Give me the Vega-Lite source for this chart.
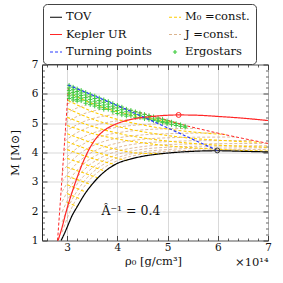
{
  "$schema": "https://vega.github.io/schema/vega-lite/v6.json",
  "width": 226,
  "height": 176,
  "autosize": {"type": "none"},
  "padding": {"left": 42, "top": 64.5, "right": 15, "bottom": 42.5},
  "background": "white",
  "config": {
    "view": {"stroke": "#222", "strokeWidth": 1},
    "font": "DejaVu Serif",
    "axis": {"labelFont": "DejaVu Serif", "titleFont": "DejaVu Serif", "labelFontSize": 10.5, "titleFontSize": 11.5, "titleFontWeight": "normal", "labelColor": "#111", "titleColor": "#111", "tickColor": "#222"},
    "legend": {"orient": "none", "legendX": 1, "legendY": -60.5, "columns": 2, "gridAlign": "each", "columnPadding": 14, "rowPadding": 4.5, "padding": 6, "labelFont": "DejaVu Serif", "labelFontSize": 11.5, "labelColor": "#111", "symbolSize": 144, "symbolStrokeWidth": 1.2, "strokeColor": "#444", "fillColor": "#ffffff", "cornerRadius": 4, "labelOffset": 3, "labelLimit": 200}
  },
  "datasets": {
    "jlines": [
      {"series":"J =const.","id":"j1","x":2.9,"y":1.28},{"series":"J =const.","id":"j1","x":3.0,"y":1.75},{"series":"J =const.","id":"j1","x":3.2,"y":2.47},{"series":"J =const.","id":"j1","x":3.4,"y":2.97},{"series":"J =const.","id":"j1","x":3.7,"y":3.44},{"series":"J =const.","id":"j1","x":4.0,"y":3.72},{"series":"J =const.","id":"j1","x":4.5,"y":3.95},{"series":"J =const.","id":"j1","x":5.0,"y":4.04},{"series":"J =const.","id":"j1","x":5.5,"y":4.075},{"series":"J =const.","id":"j1","x":6.0,"y":4.09},{"series":"J =const.","id":"j1","x":7.0,"y":4.1},
      {"series":"J =const.","id":"j2","x":2.9,"y":1.63},{"series":"J =const.","id":"j2","x":3.0,"y":2.05},{"series":"J =const.","id":"j2","x":3.2,"y":2.69},{"series":"J =const.","id":"j2","x":3.4,"y":3.14},{"series":"J =const.","id":"j2","x":3.7,"y":3.57},{"series":"J =const.","id":"j2","x":4.0,"y":3.82},{"series":"J =const.","id":"j2","x":4.5,"y":4.02},{"series":"J =const.","id":"j2","x":5.0,"y":4.1},{"series":"J =const.","id":"j2","x":5.5,"y":4.14},{"series":"J =const.","id":"j2","x":6.0,"y":4.15},{"series":"J =const.","id":"j2","x":7.0,"y":4.16},
      {"series":"J =const.","id":"j3","x":2.9,"y":1.97},{"series":"J =const.","id":"j3","x":3.0,"y":2.35},{"series":"J =const.","id":"j3","x":3.2,"y":2.92},{"series":"J =const.","id":"j3","x":3.4,"y":3.32},{"series":"J =const.","id":"j3","x":3.7,"y":3.7},{"series":"J =const.","id":"j3","x":4.0,"y":3.93},{"series":"J =const.","id":"j3","x":4.5,"y":4.11},{"series":"J =const.","id":"j3","x":5.0,"y":4.18},{"series":"J =const.","id":"j3","x":5.5,"y":4.21},{"series":"J =const.","id":"j3","x":6.0,"y":4.22},{"series":"J =const.","id":"j3","x":7.0,"y":4.23},
      {"series":"J =const.","id":"j4","x":2.9,"y":2.32},{"series":"J =const.","id":"j4","x":3.0,"y":2.65},{"series":"J =const.","id":"j4","x":3.2,"y":3.16},{"series":"J =const.","id":"j4","x":3.4,"y":3.51},{"series":"J =const.","id":"j4","x":3.7,"y":3.85},{"series":"J =const.","id":"j4","x":4.0,"y":4.04},{"series":"J =const.","id":"j4","x":4.5,"y":4.2},{"series":"J =const.","id":"j4","x":5.0,"y":4.27},{"series":"J =const.","id":"j4","x":5.5,"y":4.29},{"series":"J =const.","id":"j4","x":6.0,"y":4.3},{"series":"J =const.","id":"j4","x":7.0,"y":4.31},
      {"series":"J =const.","id":"j5","x":2.9,"y":2.66},{"series":"J =const.","id":"j5","x":3.0,"y":2.95},{"series":"J =const.","id":"j5","x":3.2,"y":3.4},{"series":"J =const.","id":"j5","x":3.4,"y":3.71},{"series":"J =const.","id":"j5","x":3.7,"y":4.0},{"series":"J =const.","id":"j5","x":4.0,"y":4.17},{"series":"J =const.","id":"j5","x":4.5,"y":4.32},{"series":"J =const.","id":"j5","x":5.0,"y":4.37},{"series":"J =const.","id":"j5","x":5.5,"y":4.4},{"series":"J =const.","id":"j5","x":6.0,"y":4.405},{"series":"J =const.","id":"j5","x":6.71,"y":4.41},
      {"series":"J =const.","id":"j6","x":2.9,"y":2.99},{"series":"J =const.","id":"j6","x":3.0,"y":3.25},{"series":"J =const.","id":"j6","x":3.2,"y":3.64},{"series":"J =const.","id":"j6","x":3.4,"y":3.91},{"series":"J =const.","id":"j6","x":3.7,"y":4.17},{"series":"J =const.","id":"j6","x":4.0,"y":4.32},{"series":"J =const.","id":"j6","x":4.5,"y":4.45},{"series":"J =const.","id":"j6","x":5.0,"y":4.5},{"series":"J =const.","id":"j6","x":5.5,"y":4.52},{"series":"J =const.","id":"j6","x":6.0,"y":4.525},{"series":"J =const.","id":"j6","x":6.37,"y":4.53},
      {"series":"J =const.","id":"j7","x":2.9,"y":3.33},{"series":"J =const.","id":"j7","x":3.0,"y":3.55},{"series":"J =const.","id":"j7","x":3.2,"y":3.89},{"series":"J =const.","id":"j7","x":3.4,"y":4.13},{"series":"J =const.","id":"j7","x":3.7,"y":4.36},{"series":"J =const.","id":"j7","x":4.0,"y":4.49},{"series":"J =const.","id":"j7","x":4.5,"y":4.6},{"series":"J =const.","id":"j7","x":5.0,"y":4.64},{"series":"J =const.","id":"j7","x":5.5,"y":4.66},{"series":"J =const.","id":"j7","x":5.99,"y":4.665},
      {"series":"J =const.","id":"j8","x":2.93,"y":3.72},{"series":"J =const.","id":"j8","x":3.0,"y":3.85},{"series":"J =const.","id":"j8","x":3.2,"y":4.15},{"series":"J =const.","id":"j8","x":3.4,"y":4.36},{"series":"J =const.","id":"j8","x":3.7,"y":4.56},{"series":"J =const.","id":"j8","x":4.0,"y":4.67},{"series":"J =const.","id":"j8","x":4.5,"y":4.77},{"series":"J =const.","id":"j8","x":5.0,"y":4.81},{"series":"J =const.","id":"j8","x":5.57,"y":4.82},
      {"series":"J =const.","id":"j9","x":2.94,"y":4.05},{"series":"J =const.","id":"j9","x":3.0,"y":4.15},{"series":"J =const.","id":"j9","x":3.2,"y":4.41},{"series":"J =const.","id":"j9","x":3.4,"y":4.59},{"series":"J =const.","id":"j9","x":3.7,"y":4.76},{"series":"J =const.","id":"j9","x":4.0,"y":4.86},{"series":"J =const.","id":"j9","x":4.5,"y":4.95},{"series":"J =const.","id":"j9","x":5.0,"y":4.98},{"series":"J =const.","id":"j9","x":5.22,"y":4.99},
      {"series":"J =const.","id":"j10","x":2.95,"y":4.38},{"series":"J =const.","id":"j10","x":3.0,"y":4.45},{"series":"J =const.","id":"j10","x":3.2,"y":4.68},{"series":"J =const.","id":"j10","x":3.4,"y":4.84},{"series":"J =const.","id":"j10","x":3.7,"y":4.99},{"series":"J =const.","id":"j10","x":4.0,"y":5.08},{"series":"J =const.","id":"j10","x":4.5,"y":5.15},{"series":"J =const.","id":"j10","x":4.8,"y":5.17},
      {"series":"J =const.","id":"j11","x":2.96,"y":4.7},{"series":"J =const.","id":"j11","x":3.0,"y":4.75},{"series":"J =const.","id":"j11","x":3.2,"y":4.95},{"series":"J =const.","id":"j11","x":3.4,"y":5.1},{"series":"J =const.","id":"j11","x":3.7,"y":5.23},{"series":"J =const.","id":"j11","x":4.0,"y":5.31},{"series":"J =const.","id":"j11","x":4.4,"y":5.37},
      {"series":"J =const.","id":"j12","x":2.97,"y":5.02},{"series":"J =const.","id":"j12","x":3.0,"y":5.05},{"series":"J =const.","id":"j12","x":3.2,"y":5.23},{"series":"J =const.","id":"j12","x":3.4,"y":5.36},{"series":"J =const.","id":"j12","x":3.7,"y":5.48},{"series":"J =const.","id":"j12","x":4.0,"y":5.55},{"series":"J =const.","id":"j12","x":4.07,"y":5.56},
      {"series":"J =const.","id":"j13","x":2.98,"y":5.33},{"series":"J =const.","id":"j13","x":3.0,"y":5.35},{"series":"J =const.","id":"j13","x":3.2,"y":5.52},{"series":"J =const.","id":"j13","x":3.4,"y":5.63},{"series":"J =const.","id":"j13","x":3.7,"y":5.75},{"series":"J =const.","id":"j13","x":3.78,"y":5.77},
      {"series":"J =const.","id":"j14","x":3.0,"y":5.65},{"series":"J =const.","id":"j14","x":3.2,"y":5.8},{"series":"J =const.","id":"j14","x":3.4,"y":5.91},{"series":"J =const.","id":"j14","x":3.52,"y":5.955},
      {"series":"J =const.","id":"j15","x":3.01,"y":5.95},{"series":"J =const.","id":"j15","x":3.1,"y":6.03},{"series":"J =const.","id":"j15","x":3.2,"y":6.09},{"series":"J =const.","id":"j15","x":3.26,"y":6.12}
    ],
    "m0lines": [
      {"series":"M₀ =const.","id":"m1","x":3.0,"y":2.3},{"series":"M₀ =const.","id":"m1","x":3.2,"y":2.16},
      {"series":"M₀ =const.","id":"m2","x":3.0,"y":2.6},{"series":"M₀ =const.","id":"m2","x":3.285,"y":2.4},
      {"series":"M₀ =const.","id":"m3","x":3.0,"y":2.9},{"series":"M₀ =const.","id":"m3","x":3.38,"y":2.65},
      {"series":"M₀ =const.","id":"m4","x":3.0,"y":3.2},{"series":"M₀ =const.","id":"m4","x":3.485,"y":2.9},
      {"series":"M₀ =const.","id":"m5","x":3.0,"y":3.5},{"series":"M₀ =const.","id":"m5","x":3.62,"y":3.13},
      {"series":"M₀ =const.","id":"m6","x":3.0,"y":3.8},{"series":"M₀ =const.","id":"m6","x":3.4,"y":3.57},{"series":"M₀ =const.","id":"m6","x":3.77,"y":3.36},
      {"series":"M₀ =const.","id":"m7","x":3.0,"y":4.1},{"series":"M₀ =const.","id":"m7","x":3.5,"y":3.8},{"series":"M₀ =const.","id":"m7","x":3.97,"y":3.58},
      {"series":"M₀ =const.","id":"m8","x":3.0,"y":4.37},{"series":"M₀ =const.","id":"m8","x":3.6,"y":4.0},{"series":"M₀ =const.","id":"m8","x":4.2,"y":3.72},
      {"series":"M₀ =const.","id":"m9","x":3.0,"y":4.64},{"series":"M₀ =const.","id":"m9","x":3.5,"y":4.33},{"series":"M₀ =const.","id":"m9","x":4.0,"y":4.1},{"series":"M₀ =const.","id":"m9","x":4.5,"y":3.97},{"series":"M₀ =const.","id":"m9","x":4.9,"y":3.96},
      {"series":"M₀ =const.","id":"m10","x":3.0,"y":4.92},{"series":"M₀ =const.","id":"m10","x":3.5,"y":4.65},{"series":"M₀ =const.","id":"m10","x":4.0,"y":4.46},{"series":"M₀ =const.","id":"m10","x":4.5,"y":4.33},{"series":"M₀ =const.","id":"m10","x":5.0,"y":4.23},{"series":"M₀ =const.","id":"m10","x":5.5,"y":4.16},{"series":"M₀ =const.","id":"m10","x":6.0,"y":4.11},{"series":"M₀ =const.","id":"m10","x":6.5,"y":4.07},{"series":"M₀ =const.","id":"m10","x":7.0,"y":4.05},
      {"series":"M₀ =const.","id":"m11","x":3.0,"y":5.2},{"series":"M₀ =const.","id":"m11","x":3.5,"y":4.89},{"series":"M₀ =const.","id":"m11","x":4.0,"y":4.66},{"series":"M₀ =const.","id":"m11","x":4.5,"y":4.5},{"series":"M₀ =const.","id":"m11","x":5.0,"y":4.39},{"series":"M₀ =const.","id":"m11","x":5.5,"y":4.31},{"series":"M₀ =const.","id":"m11","x":6.0,"y":4.25},{"series":"M₀ =const.","id":"m11","x":6.5,"y":4.21},{"series":"M₀ =const.","id":"m11","x":7.0,"y":4.18},
      {"series":"M₀ =const.","id":"m12","x":3.02,"y":5.49},{"series":"M₀ =const.","id":"m12","x":3.5,"y":5.14},{"series":"M₀ =const.","id":"m12","x":4.0,"y":4.89},{"series":"M₀ =const.","id":"m12","x":4.5,"y":4.71},{"series":"M₀ =const.","id":"m12","x":5.0,"y":4.58},{"series":"M₀ =const.","id":"m12","x":5.5,"y":4.48},{"series":"M₀ =const.","id":"m12","x":6.0,"y":4.42},{"series":"M₀ =const.","id":"m12","x":6.5,"y":4.37},{"series":"M₀ =const.","id":"m12","x":6.85,"y":4.35},
      {"series":"M₀ =const.","id":"m13","x":3.02,"y":5.77},{"series":"M₀ =const.","id":"m13","x":3.5,"y":5.4},{"series":"M₀ =const.","id":"m13","x":4.0,"y":5.13},{"series":"M₀ =const.","id":"m13","x":4.5,"y":4.94},{"series":"M₀ =const.","id":"m13","x":5.0,"y":4.8},{"series":"M₀ =const.","id":"m13","x":5.5,"y":4.7},{"series":"M₀ =const.","id":"m13","x":6.0,"y":4.63},{"series":"M₀ =const.","id":"m13","x":6.15,"y":4.615},
      {"series":"M₀ =const.","id":"m14","x":3.02,"y":6.05},{"series":"M₀ =const.","id":"m14","x":3.5,"y":5.67},{"series":"M₀ =const.","id":"m14","x":4.0,"y":5.39},{"series":"M₀ =const.","id":"m14","x":4.5,"y":5.2},{"series":"M₀ =const.","id":"m14","x":5.0,"y":5.06},{"series":"M₀ =const.","id":"m14","x":5.2,"y":5.005}
    ],
    "kdash": [
      {"id":"left","x":2.81,"y":1.0},{"id":"left","x":3.03,"y":6.3},
      {"id":"top","x":4.05,"y":5.55},{"id":"top","x":4.2,"y":5.47},{"id":"top","x":4.6,"y":5.29},{"id":"top","x":5.0,"y":5.1},{"id":"top","x":5.4,"y":4.9},{"id":"top","x":6.0,"y":4.66},{"id":"top","x":6.5,"y":4.48},{"id":"top","x":7.0,"y":4.31}
    ],
    "ergo": [
      {"series":"Ergostars","x":3.04,"y":6.29},{"series":"Ergostars","x":3.04,"y":6.2},{"series":"Ergostars","x":3.04,"y":6.11},{"series":"Ergostars","x":3.04,"y":6.02},{"series":"Ergostars","x":3.04,"y":5.93},{"series":"Ergostars","x":3.04,"y":5.84},
      {"series":"Ergostars","x":3.12,"y":6.23},{"series":"Ergostars","x":3.12,"y":6.14},{"series":"Ergostars","x":3.12,"y":6.05},{"series":"Ergostars","x":3.12,"y":5.96},{"series":"Ergostars","x":3.12,"y":5.87},{"series":"Ergostars","x":3.12,"y":5.79},
      {"series":"Ergostars","x":3.2,"y":6.17},{"series":"Ergostars","x":3.2,"y":6.08},{"series":"Ergostars","x":3.2,"y":5.99},{"series":"Ergostars","x":3.2,"y":5.9},{"series":"Ergostars","x":3.2,"y":5.81},{"series":"Ergostars","x":3.2,"y":5.75},
      {"series":"Ergostars","x":3.28,"y":6.12},{"series":"Ergostars","x":3.28,"y":6.03},{"series":"Ergostars","x":3.28,"y":5.94},{"series":"Ergostars","x":3.28,"y":5.85},{"series":"Ergostars","x":3.28,"y":5.76},
      {"series":"Ergostars","x":3.37,"y":6.05},{"series":"Ergostars","x":3.37,"y":5.96},{"series":"Ergostars","x":3.37,"y":5.87},{"series":"Ergostars","x":3.37,"y":5.78},{"series":"Ergostars","x":3.37,"y":5.68},
      {"series":"Ergostars","x":3.46,"y":5.99},{"series":"Ergostars","x":3.46,"y":5.9},{"series":"Ergostars","x":3.46,"y":5.81},{"series":"Ergostars","x":3.46,"y":5.72},{"series":"Ergostars","x":3.46,"y":5.63},
      {"series":"Ergostars","x":3.55,"y":5.93},{"series":"Ergostars","x":3.55,"y":5.84},{"series":"Ergostars","x":3.55,"y":5.75},{"series":"Ergostars","x":3.55,"y":5.66},{"series":"Ergostars","x":3.55,"y":5.58},
      {"series":"Ergostars","x":3.64,"y":5.86},{"series":"Ergostars","x":3.64,"y":5.77},{"series":"Ergostars","x":3.64,"y":5.68},{"series":"Ergostars","x":3.64,"y":5.6},{"series":"Ergostars","x":3.64,"y":5.52},
      {"series":"Ergostars","x":3.73,"y":5.8},{"series":"Ergostars","x":3.73,"y":5.71},{"series":"Ergostars","x":3.73,"y":5.62},{"series":"Ergostars","x":3.73,"y":5.54},{"series":"Ergostars","x":3.73,"y":5.47},
      {"series":"Ergostars","x":3.82,"y":5.74},{"series":"Ergostars","x":3.82,"y":5.65},{"series":"Ergostars","x":3.82,"y":5.56},{"series":"Ergostars","x":3.82,"y":5.47},
      {"series":"Ergostars","x":3.91,"y":5.67},{"series":"Ergostars","x":3.91,"y":5.58},{"series":"Ergostars","x":3.91,"y":5.49},{"series":"Ergostars","x":3.91,"y":5.39},
      {"series":"Ergostars","x":4.0,"y":5.61},{"series":"Ergostars","x":4.0,"y":5.52},{"series":"Ergostars","x":4.0,"y":5.43},{"series":"Ergostars","x":4.0,"y":5.33},
      {"series":"Ergostars","x":4.09,"y":5.55},{"series":"Ergostars","x":4.09,"y":5.46},{"series":"Ergostars","x":4.09,"y":5.37},{"series":"Ergostars","x":4.09,"y":5.28},
      {"series":"Ergostars","x":4.18,"y":5.48},{"series":"Ergostars","x":4.18,"y":5.39},{"series":"Ergostars","x":4.18,"y":5.3},{"series":"Ergostars","x":4.18,"y":5.24},
      {"series":"Ergostars","x":4.27,"y":5.44},{"series":"Ergostars","x":4.27,"y":5.35},{"series":"Ergostars","x":4.27,"y":5.25},
      {"series":"Ergostars","x":4.36,"y":5.39},{"series":"Ergostars","x":4.36,"y":5.3},{"series":"Ergostars","x":4.36,"y":5.2},
      {"series":"Ergostars","x":4.45,"y":5.35},{"series":"Ergostars","x":4.45,"y":5.27},{"series":"Ergostars","x":4.45,"y":5.19},
      {"series":"Ergostars","x":4.54,"y":5.3},{"series":"Ergostars","x":4.54,"y":5.22},{"series":"Ergostars","x":4.54,"y":5.15},
      {"series":"Ergostars","x":4.63,"y":5.26},{"series":"Ergostars","x":4.63,"y":5.18},{"series":"Ergostars","x":4.63,"y":5.12},
      {"series":"Ergostars","x":4.72,"y":5.22},{"series":"Ergostars","x":4.72,"y":5.14},{"series":"Ergostars","x":4.72,"y":5.09},
      {"series":"Ergostars","x":4.81,"y":5.17},{"series":"Ergostars","x":4.81,"y":5.1},{"series":"Ergostars","x":4.81,"y":5.05},
      {"series":"Ergostars","x":4.9,"y":5.13},{"series":"Ergostars","x":4.9,"y":5.06},{"series":"Ergostars","x":4.9,"y":5.02},
      {"series":"Ergostars","x":4.99,"y":5.08},{"series":"Ergostars","x":4.99,"y":5.02},{"series":"Ergostars","x":4.99,"y":4.98},
      {"series":"Ergostars","x":5.08,"y":5.04},{"series":"Ergostars","x":5.08,"y":4.95},
      {"series":"Ergostars","x":5.17,"y":4.99},{"series":"Ergostars","x":5.17,"y":4.92},
      {"series":"Ergostars","x":5.26,"y":4.95},{"series":"Ergostars","x":5.26,"y":4.89},
      {"series":"Ergostars","x":5.35,"y":4.9},{"series":"Ergostars","x":5.35,"y":4.86}
    ],
    "main": [
      {"series":"TOV","x":2.88,"y":1.0},{"series":"TOV","x":2.95,"y":1.25},{"series":"TOV","x":3.0,"y":1.45},{"series":"TOV","x":3.1,"y":1.85},{"series":"TOV","x":3.2,"y":2.15},{"series":"TOV","x":3.35,"y":2.58},{"series":"TOV","x":3.5,"y":2.92},{"series":"TOV","x":3.65,"y":3.2},{"series":"TOV","x":3.8,"y":3.42},{"series":"TOV","x":4.0,"y":3.63},{"series":"TOV","x":4.25,"y":3.77},{"series":"TOV","x":4.5,"y":3.87},{"series":"TOV","x":4.78,"y":3.94},{"series":"TOV","x":5.0,"y":3.98},{"series":"TOV","x":5.5,"y":4.04},{"series":"TOV","x":6.0,"y":4.06},{"series":"TOV","x":6.5,"y":4.04},{"series":"TOV","x":7.0,"y":4.02},
      {"series":"Kepler UR","x":2.82,"y":1.0},{"series":"Kepler UR","x":2.9,"y":1.45},{"series":"Kepler UR","x":3.0,"y":2.1},{"series":"Kepler UR","x":3.1,"y":2.65},{"series":"Kepler UR","x":3.2,"y":3.15},{"series":"Kepler UR","x":3.3,"y":3.6},{"series":"Kepler UR","x":3.42,"y":4.05},{"series":"Kepler UR","x":3.55,"y":4.42},{"series":"Kepler UR","x":3.7,"y":4.7},{"series":"Kepler UR","x":3.88,"y":4.9},{"series":"Kepler UR","x":4.05,"y":5.02},{"series":"Kepler UR","x":4.2,"y":5.1},{"series":"Kepler UR","x":4.4,"y":5.17},{"series":"Kepler UR","x":4.65,"y":5.22},{"series":"Kepler UR","x":4.9,"y":5.26},{"series":"Kepler UR","x":5.22,"y":5.28},{"series":"Kepler UR","x":5.6,"y":5.27},{"series":"Kepler UR","x":6.0,"y":5.23},{"series":"Kepler UR","x":6.5,"y":5.17},{"series":"Kepler UR","x":7.0,"y":5.09},
      {"series":"Turning points","x":3.02,"y":6.3},{"series":"Turning points","x":4.0,"y":5.6},{"series":"Turning points","x":5.0,"y":4.84},{"series":"Turning points","x":5.99,"y":4.07}
    ],
    "peaks": [
      {"kind":"Kepler","x":5.22,"y":5.28},
      {"kind":"TOV","x":5.99,"y":4.07}
    ],
    "note": [
      {"x":4.27,"y":2.01,"label":"Â⁻¹ = 0.4"}
    ]
  },
  "encoding": {
    "x": {"field":"x","type":"quantitative","scale":{"domain":[2.5,7],"nice":false,"zero":false},"axis":null},
    "y": {"field":"y","type":"quantitative","scale":{"domain":[1,7],"nice":false,"zero":false},"axis":null}
  },
  "layer": [
    {
      "data": {"name":"jlines"},
      "mark": {"type":"line","strokeWidth":0.9,"interpolate":"monotone"},
      "encoding": {
        "x": {"field":"x","type":"quantitative","scale":{"domain":[2.5,7],"nice":false,"zero":false},
          "axis":{"orient":"bottom","values":[3,4,5,6,7],"ticks":false,"domain":false,"labelPadding":2,"labelFlush":false,"grid":true,"gridColor":"#cfcfcf","gridWidth":0.8,"title":"ρ₀  [g/cm³]","titleX":111,"titleY":24,"titleBaseline":"alphabetic","titleAlign":"center"}},
        "y": {"field":"y","type":"quantitative","scale":{"domain":[1,7],"nice":false,"zero":false},
          "axis":{"orient":"left","values":[1,2,3,4,5,6,7],"ticks":false,"domain":false,"labelPadding":4,"labelFlush":false,"grid":true,"gridColor":"#cfcfcf","gridWidth":0.8,"title":"M  [M⊙]","titleX":-27,"titleY":88,"titleAngle":-90,"titleBaseline":"middle","titleAlign":"center"}},
        "color": {"field":"series","type":"nominal","scale":{"domain":["TOV","Kepler UR","Turning points","M₀ =const.","J =const.","Ergostars"],"range":["#000000","#ff2626","#2b3dff","#ffcc00","#dbb48e","#40cc40"]},"legend":{"title":null}},
        "strokeDash": {"field":"series","type":"nominal","scale":{"domain":["TOV","Kepler UR","Turning points","M₀ =const.","J =const.","Ergostars"],"range":[[1,0],[1,0],[3,2],[3,2],[3,2],[1,0]]},"legend":{"title":null}},
        "detail": {"field":"id"}
      }
    },
    {
      "data": {"name":"m0lines"},
      "mark": {"type":"line","strokeWidth":1.1,"interpolate":"monotone"},
      "encoding": {
        "x": {"field":"x","type":"quantitative","scale":{"domain":[2.5,7],"nice":false,"zero":false},
          "axis":{"orient":"bottom","values":[3,4,5,6,7],"labels":false,"ticks":true,"tickSize":-5,"tickWidth":0.8,"domain":false,"grid":false,"title":null}},
        "y": {"field":"y","type":"quantitative","scale":{"domain":[1,7],"nice":false,"zero":false},
          "axis":{"orient":"left","values":[1,2,3,4,5,6,7],"labels":false,"ticks":true,"tickSize":-5,"tickWidth":0.8,"domain":false,"grid":false,"title":null}},
        "color": {"field":"series","type":"nominal","scale":{"domain":["TOV","Kepler UR","Turning points","M₀ =const.","J =const.","Ergostars"],"range":["#000000","#ff2626","#2b3dff","#ffcc00","#dbb48e","#40cc40"]},"legend":{"title":null}},
        "strokeDash": {"field":"series","type":"nominal","scale":{"domain":["TOV","Kepler UR","Turning points","M₀ =const.","J =const.","Ergostars"],"range":[[1,0],[1,0],[3,2],[3,2],[3,2],[1,0]]},"legend":{"title":null}},
        "detail": {"field":"id"}
      }
    },
    {
      "data": {"name":"kdash"},
      "mark": {"type":"line","color":"#ff2626","strokeDash":[3,2],"strokeWidth":1},
      "encoding": {
        "x": {"field":"x","type":"quantitative","scale":{"domain":[2.5,7],"nice":false,"zero":false},
          "axis":{"orient":"top","values":[3,4,5,6,7],"labels":false,"ticks":true,"tickSize":-5,"tickWidth":0.8,"domain":false,"grid":false,"title":null}},
        "y": {"field":"y","type":"quantitative","scale":{"domain":[1,7],"nice":false,"zero":false},
          "axis":{"orient":"right","values":[1,2,3,4,5,6,7],"labels":false,"ticks":true,"tickSize":-5,"tickWidth":0.8,"domain":false,"grid":false,"title":null}},
        "detail": {"field":"id"}
      }
    },
    {
      "data": {"name":"ergo"},
      "mark": {"type":"point","filled":false,"size":160,"strokeWidth":1,"opacity":1},
      "encoding": {
        "x": {"field":"x","type":"quantitative","scale":{"domain":[2.5,7],"nice":false,"zero":false},
          "axis":{"orient":"bottom","values":[2.6,2.8,3.2,3.4,3.6,3.8,4.2,4.4,4.6,4.8,5.2,5.4,5.6,5.8,6.2,6.4,6.6,6.8],"labels":false,"ticks":true,"tickSize":-2.5,"tickWidth":0.7,"domain":false,"grid":false,"title":"×10¹⁴","titleX":226,"titleY":25,"titleAlign":"right","titleBaseline":"alphabetic"}},
        "y": {"field":"y","type":"quantitative","scale":{"domain":[1,7],"nice":false,"zero":false},
          "axis":{"orient":"left","values":[1.2,1.4,1.6,1.8,2.2,2.4,2.6,2.8,3.2,3.4,3.6,3.8,4.2,4.4,4.6,4.8,5.2,5.4,5.6,5.8,6.2,6.4,6.6,6.8],"labels":false,"ticks":true,"tickSize":-2.5,"tickWidth":0.7,"domain":false,"grid":false,"title":null}},
        "color": {"field":"series","type":"nominal","scale":{"domain":["TOV","Kepler UR","Turning points","M₀ =const.","J =const.","Ergostars"],"range":["#000000","#ff2626","#2b3dff","#ffcc00","#dbb48e","#40cc40"]},"legend":{"title":null}},
        "shape": {"field":"series","type":"nominal","scale":{"domain":["TOV","Kepler UR","Turning points","M₀ =const.","J =const.","Ergostars"],"range":["stroke","stroke","stroke","stroke","stroke","M-0.35,0L0.35,0M0,-0.35L0,0.35"]},"legend":{"title":null}}
      }
    },
    {
      "data": {"name":"main"},
      "mark": {"type":"line","strokeWidth":1.2,"interpolate":"monotone"},
      "encoding": {
        "x": {"field":"x","type":"quantitative","scale":{"domain":[2.5,7],"nice":false,"zero":false},
          "axis":{"orient":"top","values":[2.6,2.8,3.2,3.4,3.6,3.8,4.2,4.4,4.6,4.8,5.2,5.4,5.6,5.8,6.2,6.4,6.6,6.8],"labels":false,"ticks":true,"tickSize":-2.5,"tickWidth":0.7,"domain":false,"grid":false,"title":null}},
        "y": {"field":"y","type":"quantitative","scale":{"domain":[1,7],"nice":false,"zero":false},
          "axis":{"orient":"right","values":[1.2,1.4,1.6,1.8,2.2,2.4,2.6,2.8,3.2,3.4,3.6,3.8,4.2,4.4,4.6,4.8,5.2,5.4,5.6,5.8,6.2,6.4,6.6,6.8],"labels":false,"ticks":true,"tickSize":-2.5,"tickWidth":0.7,"domain":false,"grid":false,"title":null}},
        "color": {"field":"series","type":"nominal","scale":{"domain":["TOV","Kepler UR","Turning points","M₀ =const.","J =const.","Ergostars"],"range":["#000000","#ff2626","#2b3dff","#ffcc00","#dbb48e","#40cc40"]},"legend":{"title":null}},
        "strokeDash": {"field":"series","type":"nominal","scale":{"domain":["TOV","Kepler UR","Turning points","M₀ =const.","J =const.","Ergostars"],"range":[[1,0],[1,0],[3,2],[3,2],[3,2],[1,0]]},"legend":{"title":null}},
        "detail": {"field":"series"}
      }
    },
    {
      "data": {"name":"peaks"},
      "mark": {"type":"point","filled":false,"size":24,"strokeWidth":1,"opacity":1},
      "encoding": {
        "stroke": {"field":"kind","type":"nominal","scale":{"domain":["Kepler","TOV"],"range":["#ff2626","#333333"]},"legend":null}
      }
    },
    {
      "data": {"name":"note"},
      "mark": {"type":"text","font":"DejaVu Serif","fontSize":12.5,"align":"center","baseline":"middle","color":"#111"},
      "encoding": {"text": {"field":"label"}}
    }
  ],
  "resolve": {"axis": {"x":"independent","y":"independent"}}
}
